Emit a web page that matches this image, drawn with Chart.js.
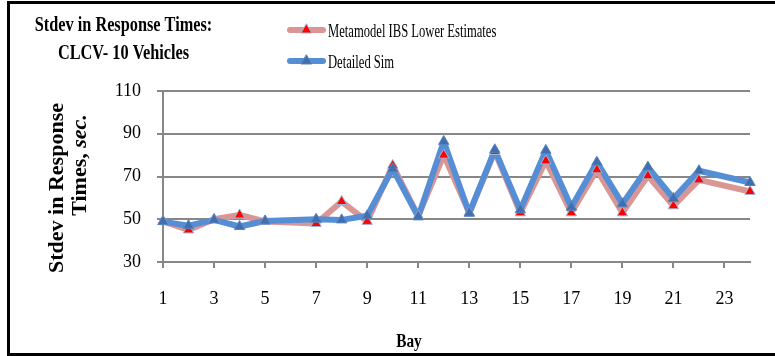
<!DOCTYPE html>
<html>
<head>
<meta charset="utf-8">
<script src="https://cdn.jsdelivr.net/npm/chart.js@4.4.0/dist/chart.umd.min.js"></script>
<style>
    html, body { margin: 0; padding: 0; background: #ffffff; }
    canvas { display: block; }
</style>
</head>
<body>
<canvas id="bayChart" width="775" height="356"></canvas>
<script>
var bays = ['1', '2', '3', '4', '5', '6', '7', '8', '9', '10', '11', '12',
            '13', '14', '15', '16', '17', '18', '19', '20', '21', '22', '23', '24'];
var xTickLabels = ['1', '3', '5', '7', '9', '11', '13', '15', '17', '19', '21', '23'];
var yTickValues = [30, 50, 70, 90, 110];

// bays 6 and 23 have no value, the line just spans them
var metamodelLower = [49, 45, 50, 52, 49, null, 48, 58.3, 49, 75.2, 51.5, 80,
                      53, 81.7, 53, 77.3, 53, 73.1, 53, 70.3, 56.3, 68.4, null, 63];
var detailedSim = [48.9, 47, 49.7, 46.6, 49.2, null, 50, 49.7, 51.6, 73.6, 51.1, 86.4,
                   52.8, 82.5, 54.4, 82.2, 55.6, 76.7, 57.2, 74.4, 59.7, 72.7, null, 67.2];

var seriesNames = ['Metamodel IBS Lower Estimates', 'Detailed Sim'];
var lineColors = ['#d99694', '#558ed5'];
var markerColors = ['#ff0000', '#3f6fae'];
var markerBorders = ['#9fb4d6', '#5a84bd'];

var gridGrey = '#878787';
var serif = '"Liberation Serif", "Times New Roman", serif';

function drawScaledText(ctx, text, x, y, font, sx, align) {
    ctx.save();
    ctx.translate(x, y);
    ctx.scale(sx, 1);
    ctx.font = font;
    ctx.fillStyle = '#000000';
    ctx.textAlign = align;
    ctx.textBaseline = 'alphabetic';
    ctx.fillText(text, 0, 0);
    ctx.restore();
}

function drawTriangle(ctx, x, y, r, fill, stroke) {
    var h = r * 1.5;
    var w = r * Math.sqrt(3);
    ctx.beginPath();
    ctx.moveTo(x, y - r);
    ctx.lineTo(x + w / 2, y - r + h);
    ctx.lineTo(x - w / 2, y - r + h);
    ctx.closePath();
    ctx.fillStyle = fill;
    ctx.fill();
    ctx.lineWidth = 1;
    ctx.strokeStyle = stroke;
    ctx.stroke();
}

var chartDecor = {
    id: 'chartDecor',
    beforeDraw: function (chart) {
        var ctx = chart.ctx;
        ctx.save();
        ctx.fillStyle = '#ffffff';
        ctx.fillRect(0, 0, chart.width, chart.height);
        ctx.restore();
    },
    afterDraw: function (chart) {
        var ctx = chart.ctx;

        // title, top left
        drawScaledText(ctx, 'Stdev in Response Times:', 123.5, 31, 'bold 22px ' + serif, 0.74, 'center');
        drawScaledText(ctx, 'CLCV- 10 Vehicles', 123.5, 59, 'bold 22px ' + serif, 0.74, 'center');

        // legend, top right
        for (var i = 0; i < seriesNames.length; i++) {
            var ly = 30 + i * 31;
            ctx.save();
            ctx.beginPath();
            ctx.moveTo(290, ly);
            ctx.lineTo(323, ly);
            ctx.lineWidth = 6;
            ctx.lineCap = 'round';
            ctx.strokeStyle = lineColors[i];
            ctx.stroke();
            drawTriangle(ctx, 306.5, ly, 6, markerColors[i], markerBorders[i]);
            ctx.restore();
            drawScaledText(ctx, seriesNames[i], 328, ly + 6.5, '18px ' + serif, 0.70, 'left');
        }

        // y axis title, two rotated lines
        ctx.save();
        ctx.translate(63, 188);
        ctx.rotate(-Math.PI / 2);
        ctx.font = 'bold 22px ' + serif;
        ctx.fillStyle = '#000000';
        ctx.textAlign = 'center';
        ctx.textBaseline = 'alphabetic';
        ctx.fillText('Stdev in Response', 0, 0);
        ctx.restore();

        ctx.save();
        ctx.translate(86, 165);
        ctx.rotate(-Math.PI / 2);
        ctx.fillStyle = '#000000';
        ctx.textBaseline = 'alphabetic';
        ctx.textAlign = 'left';
        var partA = 'Times, ';
        ctx.font = 'bold 22px ' + serif;
        var wA = ctx.measureText(partA).width;
        ctx.font = 'italic bold 22px ' + serif;
        var wB = ctx.measureText('sec.').width;
        var start = -(wA + wB) / 2;
        ctx.font = 'bold 22px ' + serif;
        ctx.fillText(partA, start, 0);
        ctx.font = 'italic bold 22px ' + serif;
        ctx.fillText('sec.', start + wA, 0);
        ctx.restore();

        // x axis title
        drawScaledText(ctx, 'Bay', 409, 347, 'bold 18px ' + serif, 0.85, 'center');

        // outer frame (left, top, bottom)
        ctx.save();
        ctx.strokeStyle = '#000000';
        ctx.lineWidth = 3;
        ctx.beginPath();
        ctx.moveTo(775, 2.5);
        ctx.lineTo(8.5, 2.5);
        ctx.lineTo(8.5, 354.5);
        ctx.lineTo(775, 354.5);
        ctx.stroke();
        ctx.restore();
    }
};

var lineOnly = function (idx, order) {
    return {
        label: seriesNames[idx],
        data: idx === 0 ? metamodelLower : detailedSim,
        borderColor: lineColors[idx],
        borderWidth: 6,
        borderJoinStyle: 'round',
        borderCapStyle: 'round',
        pointRadius: 0,
        spanGaps: true,
        tension: 0,
        order: order
    };
};

var markersOnly = function (idx, order) {
    return {
        label: seriesNames[idx],
        data: idx === 0 ? metamodelLower : detailedSim,
        showLine: false,
        pointStyle: 'triangle',
        pointRadius: 6,
        pointBackgroundColor: markerColors[idx],
        pointBorderColor: markerBorders[idx],
        pointBorderWidth: 1,
        order: order
    };
};

var ctx = document.getElementById('bayChart').getContext('2d');

new Chart(ctx, {
    type: 'line',
    data: {
        labels: bays,
        datasets: [
            lineOnly(0, 4),
            lineOnly(1, 3),
            markersOnly(0, 2),
            markersOnly(1, 1)
        ]
    },
    plugins: [chartDecor],
    options: {
        responsive: false,
        animation: false,
        layout: {
            padding: {left: 0, right: 25, top: 91, bottom: 0}
        },
        plugins: {
            legend: {display: false},
            title: {display: false},
            tooltip: {enabled: false}
        },
        scales: {
            x: {
                offset: false,
                afterFit: function (scale) { scale.height = 94; },
                grid: {
                    drawOnChartArea: false,
                    tickLength: 6,
                    lineWidth: 2,
                    color: function (c) {
                        return xTickLabels.indexOf(bays[c.index]) >= 0 ? gridGrey : 'rgba(0,0,0,0)';
                    }
                },
                border: {color: gridGrey, width: 2},
                ticks: {
                    autoSkip: false,
                    maxRotation: 0,
                    padding: 20,
                    color: '#000000',
                    font: {family: serif, size: 18},
                    callback: function (val, idx) {
                        return xTickLabels.indexOf(bays[idx]) >= 0 ? bays[idx] : '';
                    }
                }
            },
            y: {
                min: yTickValues[0],
                max: yTickValues[yTickValues.length - 1],
                afterFit: function (scale) { scale.width = 163; },
                afterBuildTicks: function (scale) {
                    scale.ticks = yTickValues.map(function (v) { return {value: v}; });
                },
                grid: {
                    color: gridGrey,
                    lineWidth: 2,
                    tickLength: 6
                },
                border: {color: gridGrey, width: 2},
                ticks: {
                    padding: 16,
                    color: '#000000',
                    font: {family: serif, size: 18}
                }
            }
        }
    }
});
</script>
</body>
</html>
